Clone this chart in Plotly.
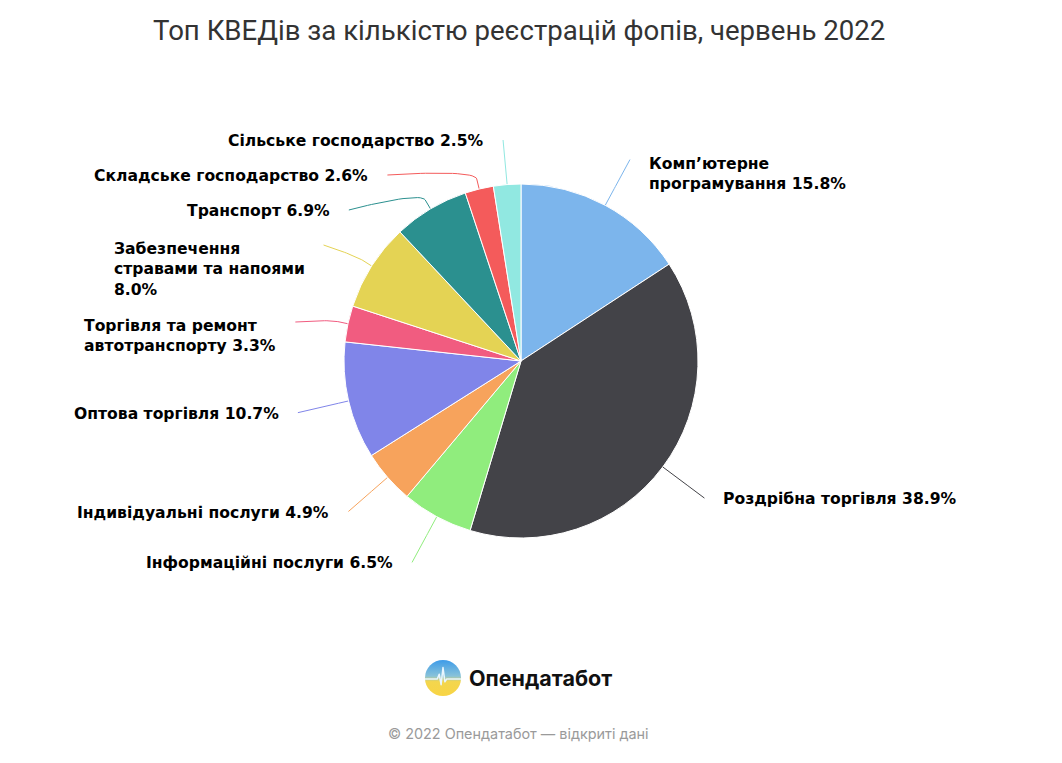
import math
import plotly.graph_objects as go

# ---------------- data ----------------
categories = [
    "Комп’ютерне програмування",
    "Роздрібна торгівля",
    "Інформаційні послуги",
    "Індивідуальні послуги",
    "Оптова торгівля",
    "Торгівля та ремонт автотранспорту",
    "Забезпечення стравами та напоями",
    "Транспорт",
    "Складське господарство",
    "Сільське господарство",
]
shares = [15.8, 38.9, 6.5, 4.9, 10.7, 3.3, 8.0, 6.9, 2.6, 2.5]
# how each label wraps (display text of the category)
label_names = [
    "Комп’ютерне<br>програмування",
    "Роздрібна торгівля",
    "Інформаційні послуги",
    "Індивідуальні послуги",
    "Оптова торгівля",
    "Торгівля та ремонт<br>автотранспорту",
    "Забезпечення<br>стравами та напоями<br>",
    "Транспорт",
    "Складське господарство",
    "Сільське господарство",
]
colors = ["#7cb5ec", "#434348", "#90ed7d", "#f7a35c", "#8085e9",
          "#f15c80", "#e4d354", "#2b908f", "#f45b5b", "#91e8e1"]

title_text = "Топ КВЕДів за кількістю реєстрацій фопів, червень 2022"
brand_text = "Опендатабот"
footer_text = "© 2022 Опендатабот — відкриті дані"

# ---------------- layout constants ----------------
W, H = 1062, 763          # window size
OFF = 8                   # page body margin
FW, FH = W - 2 * OFF, H - 2 * OFF
CX, CY, R = 521.0, 361.0, 177.0
LABEL_DIST = 52.0
R2 = R + LABEL_DIST
BREAK = LABEL_DIST / 5.0
LABEL_TOP = 140.0
LINE_H = 21.0
BOX_PAD = 14.0
TEXT_GAP = 17.0
LABEL_FONT = dict(family="DejaVu Sans, sans-serif", size=15.6, color="#000000", weight=700)

fig = go.Figure()

fig.add_trace(go.Pie(
    values=shares,
    labels=categories,
    sort=False,
    direction="clockwise",
    rotation=0,
    marker=dict(colors=colors, line=dict(color="#ffffff", width=1)),
    textinfo="none",
    hoverinfo="label+percent",
    showlegend=False,
    domain=dict(x=[(CX - R - OFF) / FW, (CX + R - OFF) / FW],
                y=[(FH - (CY - OFF) - R) / FH, (FH - (CY - OFF) + R) / FH]),
))

# ---------------- label positions from the slice angles ----------------
total = sum(shares)
info = []
cum = 0.0
for i, v in enumerate(shares):
    mid = (cum + v / 2.0) / total * 2 * math.pi
    cum += v
    s, c = math.sin(mid), math.cos(mid)
    text = label_names[i]
    if text.endswith("<br>"):
        text = text + f"{v:.1f}%"
    else:
        text = text + f" {v:.1f}%"
    info.append(dict(i=i, s=s, c=c, nat_y=CY - R2 * c, left=s < 0,
                     n=text.count("<br>") + 1, text=text))

for side in (True, False):
    items = sorted([d for d in info if d["left"] == side], key=lambda d: d["nat_y"])
    prev = None
    for d in items:
        y = max(d["nat_y"], LABEL_TOP)
        d["clamped"] = prev is None and d["nat_y"] < LABEL_TOP
        if prev is not None:
            y = max(y, prev["y"] + prev["n"] * LINE_H + BOX_PAD)
        d["y"] = y
        prev = d

annotations = []
for d in info:
    yx = d["nat_y"] if d["clamped"] else d["y"]
    dy = yx - CY
    dx = math.sqrt(max(R2 * R2 - dy * dy, 0.0))
    sign = -1 if d["left"] else 1
    ex, ey = CX + sign * dx, d["y"]
    tx, ty = CX + R * d["s"], CY - R * d["c"]
    bx, by = CX + (R + BREAK) * d["s"], CY - (R + BREAK) * d["c"]
    c2x, c2y = 2 * bx - tx, 2 * by - ty
    xs, ys = [], []
    N = 24
    for k in range(N + 1):
        t = k / N
        a = (1 - t) ** 3
        b = 3 * (1 - t) ** 2 * t
        cc = 3 * (1 - t) * t ** 2
        e = t ** 3
        xs.append(a * ex + b * ex + cc * c2x + e * bx)
        ys.append(a * ey + b * ey + cc * c2y + e * by)
    xs.append(tx)
    ys.append(ty)
    fig.add_trace(go.Scatter(x=xs, y=ys, mode="lines",
                             line=dict(color=colors[d["i"]], width=1),
                             hoverinfo="skip", showlegend=False))
    first_center = d["y"] + (3.5 if d["n"] > 1 else 1.0)
    center = first_center + (d["n"] - 1) * LINE_H / 2.0
    annotations.append(dict(
        x=ex + sign * TEXT_GAP, y=center, xref="x", yref="y",
        text=d["text"], showarrow=False,
        xanchor="right" if d["left"] else "left", yanchor="middle",
        align="left", font=LABEL_FONT,
    ))

# title, brand and footer
annotations.append(dict(x=519, y=30, xref="x", yref="y", text=title_text, showarrow=False,
                        xanchor="center", yanchor="middle",
                        font=dict(family="Roboto, sans-serif", size=27.6, color="#333333")))
annotations.append(dict(x=467, y=678, xref="x", yref="y", text=brand_text, showarrow=False,
                        xanchor="left", yanchor="middle",
                        font=dict(family="Inter, sans-serif", size=21.5, color="#111111", weight=700)))
annotations.append(dict(x=518, y=733, xref="x", yref="y", text=footer_text, showarrow=False,
                        xanchor="center", yanchor="middle",
                        font=dict(family="Inter, sans-serif", size=14.4, color="#9a9a9a")))

logo_svg = (
    "data:image/svg+xml;utf8,"
    "<svg xmlns='http://www.w3.org/2000/svg' width='40' height='40' viewBox='0 0 40 40'>"
    "<defs><linearGradient id='g' x1='0' y1='0' x2='0' y2='1'>"
    "<stop offset='0' stop-color='%233d9be9'/><stop offset='0.45' stop-color='%2389c3d9'/>"
    "<stop offset='0.6' stop-color='%23f3d64e'/><stop offset='1' stop-color='%23f8d444'/>"
    "</linearGradient></defs>"
    "<circle cx='20' cy='20' r='19' fill='url(%23g)'/>"
    "<polyline points='1,21 14,21 16,16 18,27 20,9 22,24 24,21 39,21' fill='none' "
    "stroke='%23e8f6ff' stroke-width='1.6' stroke-linejoin='round'/>"
    "</svg>"
)

fig.update_layout(
    width=FW, height=FH,
    margin=dict(l=0, r=0, t=0, b=0),
    paper_bgcolor="#ffffff", plot_bgcolor="rgba(0,0,0,0)",
    xaxis=dict(range=[OFF, W - OFF], visible=False, fixedrange=True),
    yaxis=dict(range=[H - OFF, OFF], visible=False, fixedrange=True),
    annotations=annotations,
    images=[dict(source=logo_svg, xref="x", yref="y", x=424, y=659, sizex=38, sizey=38,
                 xanchor="left", yanchor="top", sizing="stretch", layer="above")],
    showlegend=False,
)

fig.write_html("out.html")
